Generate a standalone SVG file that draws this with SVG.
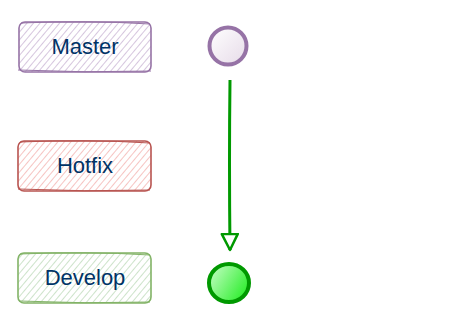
<svg xmlns="http://www.w3.org/2000/svg" width="454" height="329" viewBox="0 0 454 329">
<defs>
<pattern id="hp" width="5" height="5" patternUnits="userSpaceOnUse" patternTransform="rotate(40)"><rect width="5" height="5" fill="#ffffff"/><line x1="0" y1="0" x2="0" y2="5" stroke="#d6c6de" stroke-width="2"/></pattern>
<pattern id="hr" width="5" height="5" patternUnits="userSpaceOnUse" patternTransform="rotate(40)"><rect width="5" height="5" fill="#ffffff"/><line x1="0" y1="0" x2="0" y2="5" stroke="#f6c4c2" stroke-width="2"/></pattern>
<pattern id="hg" width="5" height="5" patternUnits="userSpaceOnUse" patternTransform="rotate(40)"><rect width="5" height="5" fill="#ffffff"/><line x1="0" y1="0" x2="0" y2="5" stroke="#cde3ca" stroke-width="2"/></pattern>
<linearGradient id="gm" x1="0" y1="0" x2="1" y2="1"><stop offset="0" stop-color="#ffffff"/><stop offset="1" stop-color="#e6dbe8"/></linearGradient>
<linearGradient id="gd" x1="0" y1="0" x2="1" y2="0.6"><stop offset="0" stop-color="#ccffcc"/><stop offset="1" stop-color="#33ee33"/></linearGradient>
<marker id="ah" markerWidth="20" markerHeight="20" refX="17" refY="9" orient="auto" markerUnits="userSpaceOnUse" viewBox="0 0 20 20"><path d="M1,1 L17,9 L1,17 Z" fill="#ffffff" stroke="#009900" stroke-width="2.5" stroke-linejoin="round"/></marker>
</defs>
<style>
.lbl{font-family:"Liberation Sans",Arial,sans-serif;font-size:22px;fill:#003366;text-anchor:middle}
.box{stroke-width:1.6;stroke-linejoin:round}
</style>
<g id="master">
<rect x="19" y="22" width="132" height="50" rx="6" fill="url(#hp)" stroke="#9673a6" class="box"/>
<path d="M21,23 Q85,20 150,24 M18,70 Q85,73 151,71" fill="none" stroke="#9673a6" stroke-width="1"/>
<text x="85" y="54" class="lbl">Master</text>
</g>
<g id="hotfix">
<rect x="18" y="141" width="133" height="50" rx="6" fill="url(#hr)" stroke="#b85450" class="box"/>
<path d="M20,142 Q85,139 150,143 M18,189 Q85,192 150,190" fill="none" stroke="#b85450" stroke-width="1"/>
<text x="85" y="173" class="lbl">Hotfix</text>
</g>
<g id="develop">
<rect x="18" y="253" width="133" height="50" rx="6" fill="url(#hg)" stroke="#82b366" class="box"/>
<path d="M20,254 Q85,251 150,255 M19,301 Q85,304 150,302" fill="none" stroke="#82b366" stroke-width="1"/>
<text x="85" y="285" class="lbl">Develop</text>
</g>
<g id="c-master">
<circle cx="228" cy="46" r="18.5" fill="url(#gm)" stroke="#9673a6" stroke-width="4"/>
</g>
<g id="c-develop">
<ellipse cx="229" cy="283" rx="20" ry="19" fill="url(#gd)" stroke="#009900" stroke-width="4"/>
</g>
<g id="connectors">
<path d="M230,80 Q229,160 230,250" fill="none" stroke="#009900" stroke-width="3" marker-end="url(#ah)"/>
</g>
</svg>
